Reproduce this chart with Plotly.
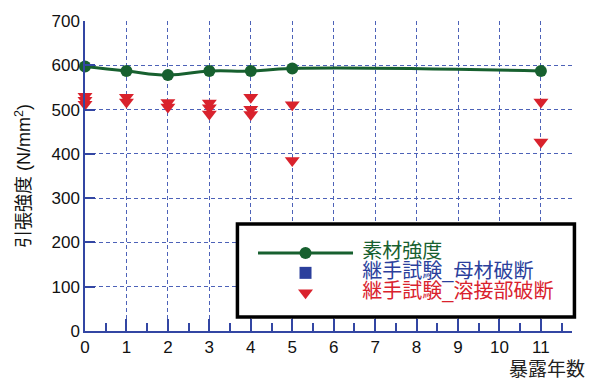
import plotly.graph_objects as go

# Material strength (素材強度) by exposure year
years_base = [0, 1, 2, 3, 4, 5, 11]
strength_base = [597, 587, 578, 587, 587, 593, 587]

# Joint tests failing in the base metal (none recorded)
years_base_fail = [None]
strength_base_fail = [None]

# Joint tests failing at the weld
years_weld_fail = [0, 0, 0, 1, 1, 2, 2, 3, 3, 3, 4, 4, 4, 5, 5, 11, 11]
strength_weld_fail = [530, 521, 512, 528, 517, 516, 506, 515, 504, 490,
                      528, 501, 489, 511, 385, 517, 427]

x_ticks = list(range(0, 12))
y_ticks = list(range(0, 701, 100))

GREEN = "#17602f"
BLUE = "#2b3f9c"
RED = "#d9222d"
AXIS_BLUE = "#3346a3"
GRID_BLUE = "#4d62b8"
FONT = "Liberation Sans, Noto Sans CJK JP, sans-serif"


def legend_label(text, color):
    return f"\u2004<span style='color:{color};font-size:20px'>{text}</span>"


fig = go.Figure()
fig.add_trace(go.Scatter(
    x=years_base, y=strength_base, mode="lines+markers", cliponaxis=False,
    line=dict(color=GREEN, width=3, shape="spline", smoothing=1.3),
    marker=dict(color=GREEN, size=12, symbol="circle"),
    name=legend_label("素材強度", GREEN),
))
fig.add_trace(go.Scatter(
    x=years_base_fail, y=strength_base_fail, mode="markers",
    marker=dict(color=BLUE, size=12, symbol="square"),
    name=legend_label("継手試験_母材破断", BLUE),
))
fig.add_trace(go.Scatter(
    x=years_weld_fail, y=strength_weld_fail, mode="markers", cliponaxis=False,
    marker=dict(color=RED, size=13, symbol="triangle-down"),
    name=legend_label("継手試験_溶接部破断", RED),
))

axis_common = dict(
    showline=True, linecolor=AXIS_BLUE, linewidth=1.5,
    showgrid=True, gridcolor=GRID_BLUE, griddash="4px,3px", gridwidth=1.2,
    zeroline=False, ticks="inside", tickcolor=AXIS_BLUE, tickwidth=1.5,
    tickfont=dict(family=FONT, size=17, color="#111"),
)

fig.update_layout(
    width=600, height=379,
    margin=dict(l=85, r=28, t=17, b=48),
    paper_bgcolor="white", plot_bgcolor="white",
    font=dict(family=FONT, color="#111"),
    xaxis=dict(range=[0, 11.75], tickvals=x_ticks, ticklen=12,
               minor=dict(dtick=0.5, ticks="inside", ticklen=8,
                          tickcolor=AXIS_BLUE, showgrid=False),
               **axis_common),
    yaxis=dict(range=[0, 700], tickvals=y_ticks, ticklen=10,
               title=dict(text="引張強度 (N/mm<sup>2</sup>)",
                          font=dict(family=FONT, size=18, color="#111"),
                          standoff=16),
               **axis_common),
    showlegend=True,
    legend=dict(x=0.345, y=0.30, xanchor="left", yanchor="top",
                bgcolor="rgba(0,0,0,0)", borderwidth=0,
                font=dict(family=FONT, size=13, color="#111"),
                itemwidth=95, tracegroupgap=0),
    shapes=[dict(type="rect", xref="paper", yref="paper",
                 x0=0.313, x1=1.005, y0=0.045, y1=0.345,
                 line=dict(color="black", width=3.5),
                 fillcolor="white", layer="above")],
    annotations=[dict(text="暴露年数", xref="paper", yref="paper",
                      x=1.03, y=-0.085, xanchor="right", yanchor="top",
                      showarrow=False,
                      font=dict(family=FONT, size=19, color="#222"))],
)

fig.write_html("out.html")
